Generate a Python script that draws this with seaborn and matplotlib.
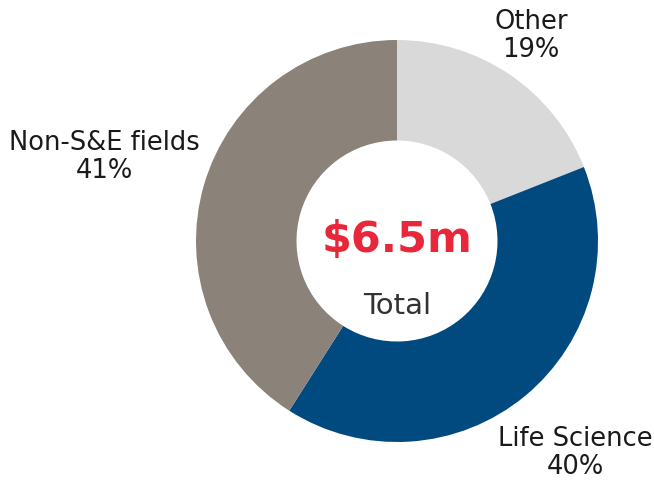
import matplotlib
matplotlib.use("Agg")
import matplotlib.pyplot as plt
import seaborn as sns

# data
categories = ["Other", "Life Science", "Non-S&E fields"]
shares = [19, 40, 41]
colors = ["#d9d9d9", "#004a80", "#8b8279"]
total_label = "$6.5m"

sns.set_style("white")
plt.rcParams["font.family"] = ["DejaVu Sans"]

W, H = 654, 481
fig = plt.figure(figsize=(W / 100, H / 100), dpi=100)
ax = fig.add_axes([0, 0, 1, 1])

cx, cy, r = 397, H - 242, 201
ax.pie(shares, colors=colors, startangle=90, counterclock=False,
       center=(cx, cy), radius=r, frame=True,
       wedgeprops=dict(width=r * 0.5, linewidth=0))
ax.set_xlim(0, W)
ax.set_ylim(0, H)
ax.set_aspect("equal")
ax.axis("off")

label_pos = {"Other": (531, 36), "Life Science": (575, 453), "Non-S&E fields": (104, 157)}
for name, val in zip(categories, shares):
    x, y = label_pos[name]
    ax.text(x, H - y, f"{name}\n{val}%", ha="center", va="center",
            fontsize=18.5, color="#1a1a1a", linespacing=1.12)

ax.text(cx, H - 240, total_label, ha="center", va="center", fontsize=31,
        fontweight="bold", color="#e8283a")
ax.text(cx, H - 306, "Total", ha="center", va="center", fontsize=21, color="#333333")

fig.savefig("out.png", dpi=100)
